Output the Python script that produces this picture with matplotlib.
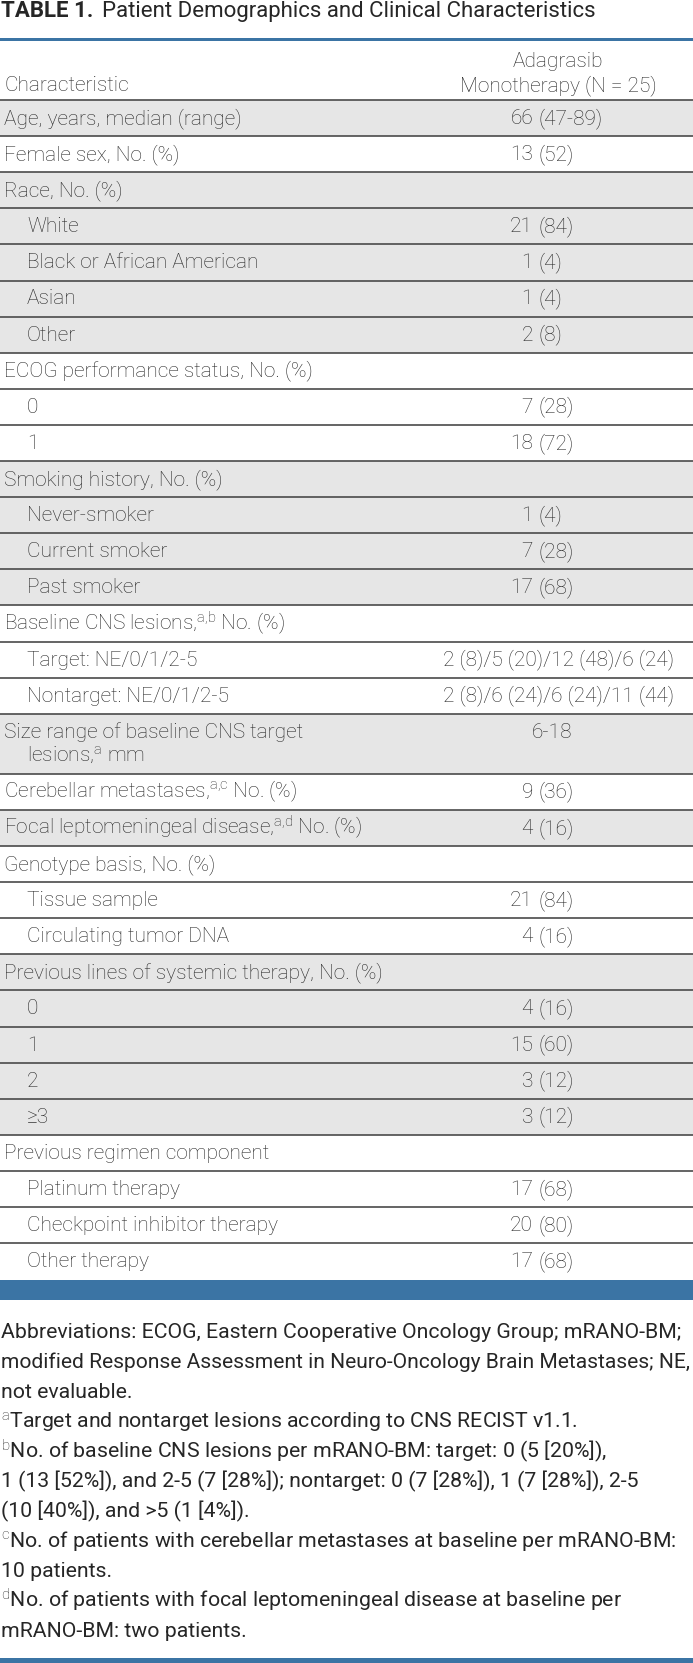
# coding=utf-8
""" Table 1 - Patient Demographics and Clinical Characteristics """

import matplotlib.pyplot as plt
from matplotlib.patches import Rectangle

plt.rcParams['font.family'] = ['Roboto', 'DejaVu Sans']
plt.rcParams['font.weight'] = 'light'
plt.rcParams['mathtext.fontset'] = 'custom'
plt.rcParams['mathtext.rm'] = 'Roboto:light'
plt.rcParams['mathtext.it'] = 'Roboto:light'
plt.rcParams['mathtext.bf'] = 'Roboto:bold'

title_bold = 'TABLE 1.'
title_text = 'Patient Demographics and Clinical Characteristics'
head_label = 'Characteristic'
head_value = ['Adagrasib', 'Monotherapy (N = 25)']

row_labels = [
    'Age, years, median (range)',
    'Female sex, No. (%)',
    'Race, No. (%)', 'White', 'Black or African American', 'Asian', 'Other',
    'ECOG performance status, No. (%)', '0', '1',
    'Smoking history, No. (%)', 'Never-smoker', 'Current smoker', 'Past smoker',
    r'Baseline CNS lesions,$^{a{,}b}$ No. (%)', 'Target: NE/0/1/2-5', 'Nontarget: NE/0/1/2-5',
    'Size range of baseline CNS target\n' + r'lesions,$^{a}$ mm',
    r'Cerebellar metastases,$^{a{,}c}$ No. (%)',
    r'Focal leptomeningeal disease,$^{a{,}d}$ No. (%)',
    'Genotype basis, No. (%)', 'Tissue sample', 'Circulating tumor DNA',
    'Previous lines of systemic therapy, No. (%)', '0', '1', '2', '≥3',
    'Previous regimen component', 'Platinum therapy', 'Checkpoint inhibitor therapy', 'Other therapy',
]
row_values = [
    '66 (47-89)',
    '13 (52)',
    '', '21 (84)', '1 (4)', '1 (4)', '2 (8)',
    '', '7 (28)', '18 (72)',
    '', '1 (4)', '7 (28)', '17 (68)',
    '', '2 (8)/5 (20)/12 (48)/6 (24)', '2 (8)/6 (24)/6 (24)/11 (44)',
    '6-18',
    '9 (36)',
    '4 (16)',
    '', '21 (84)', '4 (16)',
    '', '4 (16)', '15 (60)', '3 (12)', '3 (12)',
    '', '17 (68)', '20 (80)', '17 (68)',
]
# sub-items are indented and share the shading of their heading
sub_item = [
    False,
    False,
    False, True, True, True, True,
    False, True, True,
    False, True, True, True,
    False, True, True,
    False,
    False,
    False,
    False, True, True,
    False, True, True, True, True,
    False, True, True, True,
]

footnotes = [
    'Abbreviations: ECOG, Eastern Cooperative Oncology Group; mRANO-BM;',
    'modified Response Assessment in Neuro-Oncology Brain Metastases; NE,',
    'not evaluable.',
    r'$^{a}$Target and nontarget lesions according to CNS RECIST v1.1.',
    r'$^{b}$No. of baseline CNS lesions per mRANO-BM: target: 0 (5 [20%]),',
    '1 (13 [52%]), and 2-5 (7 [28%]); nontarget: 0 (7 [28%]), 1 (7 [28%]), 2-5',
    '(10 [40%]), and >5 (1 [4%]).',
    r'$^{c}$No. of patients with cerebellar metastases at baseline per mRANO-BM:',
    '10 patients.',
    r'$^{d}$No. of patients with focal leptomeningeal disease at baseline per',
    'mRANO-BM: two patients.',
]

W, H = 693, 1663
blue = '#3b74a4'
grey = '#e6e6e6'
ink = '#262626'
rule = '#4a4a4a'
fs = 15

fig = plt.figure(figsize=(W / 100, H / 100), dpi=100)
ax = fig.add_axes([0, 0, 1, 1])
ax.set_xlim(0, W)
ax.set_ylim(H, 0)
ax.axis('off')
renderer = fig.canvas.get_renderer()

# title
t = ax.text(1, 17, title_bold, fontsize=16, fontweight='bold', color=ink, va='baseline')
bb = t.get_window_extent(renderer)
ax.text(bb.x1 + 9, 17, title_text, fontsize=16, fontweight='normal', color=ink, va='baseline')

# top rule and header
ax.add_patch(Rectangle((0, 37.5), W, 3, color=blue, lw=0))
ax.text(558, 67, head_value[0], fontsize=fs, color=ink, ha='center', va='baseline')
ax.text(558, 91, head_value[1], fontsize=fs, color=ink, ha='center', va='baseline')
ax.text(4, 91, head_label, fontsize=fs, color=ink, va='baseline')

row_h = 36.1
line_gap = 24
paren_x = 538
y = 100
ax.hlines(y, 0, W, color=rule, lw=1.2)
group = -1
for label, value, sub in zip(row_labels, row_values, sub_item):
    if not sub:
        group += 1
    lines = label.split('\n')
    h = row_h + (len(lines) - 1) * line_gap
    if group % 2 == 0:
        ax.add_patch(Rectangle((0, y), W, h, color=grey, lw=0, zorder=0))
    for k, txt in enumerate(lines):
        x = 27 if (sub or k > 0) else 4
        ax.text(x, y + 24 + k * line_gap, txt, fontsize=fs, color=ink, va='baseline')
    if value:
        base = y + 24
        if value.count('(') == 1:
            left, right = value.split(' (')
            ax.text(paren_x - 5, base, left, fontsize=fs, color=ink, ha='right', va='baseline')
            ax.text(paren_x, base, '(' + right, fontsize=fs, color=ink, ha='left', va='baseline')
        elif value.count('(') == 0:
            ax.text(552, base, value, fontsize=fs, color=ink, ha='center', va='baseline')
        else:
            ax.text(559, base, value, fontsize=fs, color=ink, ha='center', va='baseline')
    y += h
    if label != row_labels[-1]:
        ax.hlines(y, 0, W, color=rule, lw=1.2)

# bottom bar
ax.add_patch(Rectangle((0, y + 1), W, 20, color=blue, lw=0))

# footnotes, regular weight, squeezed to the width when too long
fs_foot = 15.3
for k, txt in enumerate(footnotes):
    t = ax.text(1, 1338 + k * 29.9, txt, fontsize=fs_foot, fontweight='normal',
                color=ink, va='baseline')
    w = t.get_window_extent(renderer).width
    if w > W - 2:
        t.set_fontsize(fs_foot * (W - 2) / w)

ax.add_patch(Rectangle((0, 1657.5), W, 6, color=blue, lw=0))

fig.savefig('out.png', dpi=100)
